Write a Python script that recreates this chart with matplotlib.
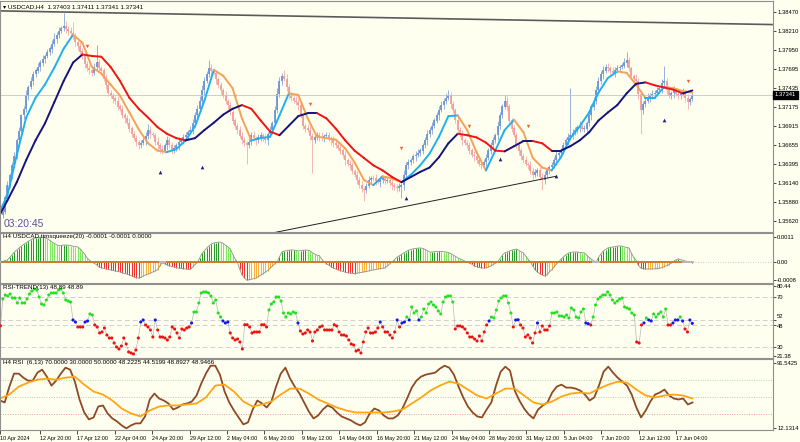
import numpy as np
import matplotlib
matplotlib.use("Agg")
import matplotlib.pyplot as plt
from matplotlib.collections import LineCollection

plt.rcParams['font.family'] = ['Liberation Sans', 'DejaVu Sans']

# ---- data (H4 bars, 10 Apr 2024 00:00 .. 18 Jun 2024 08:00) ----
# prices stored as pips above 1.3500
first_open_pips = 85
close_pips = [
    77, 70, 74, 95, 111, 125, 138, 150, 172, 185, 206, 215, 233, 245, 253, 262, 267, 272, 278, 283,
    287, 292, 297, 303, 310, 316, 321, 325, 328, 324, 321, 318, 314, 306, 301, 293, 287, 276, 270, 268,
    264, 272, 278, 270, 267, 256, 247, 236, 233, 229, 226, 218, 215, 206, 202, 196, 188, 180, 175, 170,
    165, 168, 172, 178, 186, 180, 179, 170, 165, 160, 158, 165, 172, 165, 158, 162, 165, 170, 172, 176,
    179, 183, 186, 195, 206, 215, 226, 240, 253, 262, 270, 266, 264, 255, 247, 240, 233, 226, 220, 210,
    199, 192, 186, 178, 172, 168, 165, 170, 179, 175, 172, 176, 179, 175, 172, 180, 186, 195, 213, 235,
    253, 260, 256, 245, 233, 230, 226, 224, 220, 205, 192, 188, 186, 178, 172, 176, 179, 177, 175, 178,
    179, 175, 172, 168, 165, 162, 158, 152, 145, 140, 138, 130, 125, 118, 111, 106, 104, 110, 118, 121,
    120, 116, 115, 118, 120, 117, 118, 114, 111, 108, 107, 109, 111, 125, 138, 142, 145, 150, 152, 155,
    158, 165, 172, 180, 186, 192, 199, 206, 213, 220, 226, 230, 233, 222, 213, 200, 186, 180, 172, 168,
    165, 158, 152, 150, 145, 140, 138, 142, 148, 158, 165, 172, 179, 192, 206, 218, 226, 218, 199, 188,
    179, 165, 158, 150, 145, 140, 138, 130, 125, 128, 131, 122, 118, 125, 131, 135, 138, 145, 152, 155,
    158, 165, 172, 176, 179, 182, 186, 190, 192, 188, 188, 195, 206, 218, 226, 240, 253, 262, 267, 272,
    270, 266, 264, 268, 270, 272, 274, 278, 281, 270, 260, 256, 253, 235, 213, 222, 226, 230, 233, 235,
    237, 240, 243, 250, 253, 240, 233, 236, 240, 235, 233, 236, 237, 230, 224, 228, 234]
upper_wick = [
    4, 3, 6, 2, 5, 3, 4, 6, 3, 5, 2, 4, 7, 3, 5, 4, 3, 6, 4, 5,
    3, 5, 4, 6, 8, 4, 5, 3, 18, 6, 4, 5, 15, 4, 3, 6, 5, 3, 4, 5,
    4, 6, 24, 5, 3, 4, 6, 3, 5, 4, 3, 6, 4, 5, 3, 4, 6, 3, 5, 4,
    3, 5, 4, 6, 8, 5, 4, 3, 6, 4, 5, 3, 6, 4, 5, 3, 4, 6, 3, 5,
    4, 3, 5, 6, 4, 5, 6, 8, 5, 4, 12, 6, 5, 4, 3, 5, 4, 6, 3, 4,
    5, 3, 4, 6, 5, 4, 3, 5, 4, 6, 3, 5, 4, 3, 6, 4, 5, 3, 6, 8,
    5, 4, 8, 6, 4, 5, 3, 6, 4, 5, 3, 4, 6, 5, 4, 3, 5, 4, 6, 3,
    4, 5, 3, 6, 4, 3, 5, 4, 6, 3, 5, 4, 3, 5, 4, 6, 3, 4, 5, 3,
    4, 6, 3, 5, 4, 3, 5, 4, 6, 3, 4, 5, 3, 6, 4, 5, 3, 4, 6, 5,
    4, 3, 5, 6, 4, 5, 3, 4, 6, 5, 4, 6, 8, 5, 4, 3, 5, 4, 6, 3,
    4, 5, 3, 6, 4, 3, 5, 4, 6, 3, 5, 4, 3, 6, 5, 4, 8, 6, 4, 3,
    5, 4, 6, 3, 4, 5, 3, 6, 4, 5, 3, 4, 6, 5, 4, 3, 5, 4, 6, 3,
    4, 5, 3, 6, 64, 5, 4, 3, 6, 4, 5, 3, 6, 4, 5, 6, 5, 4, 6, 4,
    5, 3, 6, 4, 5, 3, 4, 6, 11, 5, 4, 3, 6, 4, 5, 3, 4, 6, 3, 5,
    4, 5, 3, 6, 20, 4, 5, 3, 6, 4, 5, 3, 6, 4, 5, 3, 2]
lower_wick = [
    5, 15, 4, 3, 6, 4, 5, 3, 4, 6, 3, 5, 4, 6, 3, 5, 4, 3, 6, 4,
    5, 3, 4, 6, 3, 5, 4, 3, 4, 6, 5, 3, 4, 5, 6, 3, 4, 5, 3, 6,
    4, 3, 5, 4, 6, 3, 5, 4, 3, 6, 4, 5, 3, 4, 6, 3, 5, 4, 3, 6,
    5, 4, 3, 6, 4, 5, 3, 4, 6, 5, 4, 3, 6, 4, 5, 3, 4, 6, 3, 5,
    4, 5, 3, 6, 4, 3, 5, 4, 6, 3, 4, 5, 3, 6, 4, 5, 3, 4, 6, 3,
    5, 4, 6, 3, 5, 4, 25, 3, 5, 4, 6, 3, 5, 4, 3, 6, 4, 5, 3, 4,
    4, 5, 3, 6, 4, 5, 3, 4, 6, 3, 5, 4, 3, 5, 44, 4, 3, 6, 4, 5,
    3, 4, 6, 5, 4, 3, 5, 4, 6, 3, 5, 4, 3, 6, 4, 5, 14, 4, 3, 5,
    4, 5, 3, 6, 4, 5, 3, 4, 6, 3, 5, 4, 16, 6, 4, 5, 3, 4, 6, 3,
    5, 4, 3, 6, 4, 5, 3, 4, 6, 3, 5, 4, 3, 6, 4, 5, 3, 4, 6, 3,
    4, 5, 3, 6, 4, 3, 5, 4, 6, 3, 5, 4, 3, 6, 5, 4, 3, 6, 4, 5,
    3, 4, 6, 5, 4, 3, 5, 4, 6, 3, 5, 4, 14, 6, 4, 5, 3, 4, 6, 5,
    4, 5, 3, 6, 4, 5, 3, 4, 6, 3, 5, 4, 3, 6, 4, 5, 3, 4, 6, 3,
    5, 4, 3, 6, 4, 5, 3, 4, 6, 3, 5, 4, 3, 6, 32, 5, 4, 3, 6, 4,
    5, 4, 3, 6, 4, 5, 3, 4, 6, 3, 5, 4, 3, 6, 9, 4, 3]

# moving averages, one value every 4 bars (pips above 1.3500)
ma_step = 4
fast_ma = [70, 97, 152, 203, 230, 248, 271, 297, 316, 305, 272, 263, 248, 233, 210, 187, 168, 158, 156, 160,
           172, 191, 226, 268, 260, 243, 202, 172, 175, 177, 206, 236, 234, 202, 177, 175, 173, 161, 142, 118,
           111, 123, 120, 115, 125, 138, 154, 177, 205, 206, 186, 156, 131, 158, 186, 200, 183, 148, 135, 131,
           149, 175, 191, 210, 237, 257, 266, 264, 248, 230, 230, 245, 243, 239, 237]
slow_ma = [66, 90, 115, 145, 172, 195, 224, 253, 278, 289, 287, 286, 272, 253, 230, 215, 203, 190, 181, 175,
           172, 175, 186, 196, 207, 215, 220, 215, 199, 184, 179, 192, 205, 209, 209, 202, 188, 172, 158, 148,
           138, 131, 122, 115, 122, 129, 135, 149, 168, 181, 179, 176, 169, 158, 157, 164, 171, 171, 168, 158,
           158, 164, 172, 183, 199, 210, 220, 236, 249, 251, 247, 244, 241, 236, 240]

last_price = 1.37341
upper_trend = [(1, 1.38484), (330, 1.38298)]
lower_trend = [(119, 1.35471), (238, 1.36231)]
sell_bars = [38, 101, 133, 172, 201, 226, 294]
sell_pips = [300, 233, 222, 162, 192, 192, 253]
buy_bars = [69, 87, 174, 214, 238, 284]
buy_pips = [129, 135, 93, 146, 123, 200]
price_ticks = [1.38470, 1.38210, 1.37950, 1.37695, 1.37435, 1.37175, 1.36915,
               1.36655, 1.36395, 1.36140, 1.35880, 1.35620]

# squeeze momentum per bar, in 0.00001
squeeze = [
    0, 0, 3, 6, 9, 20, 32, 44, 53, 62, 70, 78, 85, 92, 98, 104, 106, 108, 110, 110,
    108, 103, 96, 88, 82, 76, 72, 73, 75, 75, 74, 72, 70, 68, 66, 58, 46, 34, 18, 8,
    0, -6, -12, -22, -25, -28, -31, -33, -35, -37, -40, -42, -44, -48, -51, -54, -57, -62, -66, -69,
    -71, -68, -62, -57, -53, -49, -44, -40, -35, -18, -3, -8, -12, -16, -20, -22, -25, -27, -28, -30,
    -31, -32, -33, -22, -11, -2, 18, 38, 50, 62, 72, 80, 84, 86, 88, 87, 82, 74, 66, 58,
    35, 15, 0, -30, -57, -70, -80, -79, -76, -74, -71, -65, -58, -52, -45, -38, -28, -18, -8, 0,
    22, 44, 48, 50, 52, 53, 53, 51, 49, 50, 52, 53, 52, 50, 40, 35, 30, 28, 12, 0,
    -8, -14, -21, -27, -31, -35, -38, -42, -45, -47, -49, -50, -52, -50, -48, -46, -44, -42, -40, -37,
    -35, -33, -31, -29, -28, -26, -18, -8, 0, 10, 20, 27, 33, 40, 46, 52, 55, 58, 60, 61,
    62, 60, 56, 50, 44, 44, 45, 46, 47, 46, 45, 44, 42, 37, 31, 25, 18, 13, 9, 4,
    0, -5, -10, -17, -21, -24, -26, -27, -26, -23, -18, -12, -6, 0, 15, 30, 40, 44, 48, 52,
    55, 57, 52, 45, 40, 25, 12, 0, -18, -35, -45, -52, -57, -62, -57, -45, -35, -22, -10, 0,
    12, 22, 31, 38, 42, 44, 44, 44, 42, 41, 40, 30, 20, 12, 5, 0, 20, 35, 48, 55,
    62, 64, 66, 68, 70, 71, 70, 67, 64, 62, 40, 20, 8, -15, -27, -30, -31, -31, -31, -31,
    -30, -29, -28, -25, -21, -16, -12, -5, 3, 9, 14, 10, 8, 4, 2, -2, -3]
squeeze_off = [(0, 1), (69, 71), (254, 256), (292, 296)]

# RSI-TREND(13), one point per bar across the chart
rsi_trend = [
    50.0, 47.0, 68.4, 71.6, 70.8, 72.4, 69.2, 69.2, 65.2, 69.2, 65.2, 65.2, 68.4, 72.4, 74.8, 76.4,
    75.6, 70.0, 64.4, 63.6, 67.6, 71.6, 73.2, 73.2, 73.2, 75.6, 76.4, 73.2, 67.6, 66.8, 66.0, 51.6,
    50.0, 46.0, 46.0, 46.0, 50.0, 50.8, 56.4, 55.6, 47.6, 46.0, 41.2, 42.0, 45.2, 39.6, 37.2, 37.2,
    33.2, 30.0, 28.4, 30.8, 37.2, 32.4, 26.0, 25.2, 24.4, 27.6, 37.2, 50.0, 51.6, 47.6, 46.0, 43.6,
    38.0, 51.6, 43.6, 38.0, 38.0, 37.2, 35.6, 38.0, 46.0, 44.4, 41.2, 37.2, 44.4, 43.6, 45.2, 46.0,
    49.2, 58.0, 58.0, 65.2, 73.2, 74.0, 74.0, 73.2, 70.8, 65.2, 67.6, 57.2, 54.0, 50.8, 49.2, 50.0,
    41.2, 37.2, 35.6, 36.4, 34.0, 28.4, 47.8, 47.8, 46.0, 41.2, 42.0, 42.0, 42.0, 47.8, 47.8, 46.0,
    59.6, 64.4, 66.0, 70.0, 70.0, 66.8, 57.2, 54.0, 57.2, 56.4, 58.0, 57.2, 49.2, 42.8, 40.4, 41.2,
    43.6, 42.0, 34.8, 42.0, 43.6, 46.0, 46.8, 43.6, 43.6, 43.6, 43.6, 47.8, 46.8, 42.0, 39.6, 39.6,
    38.8, 35.6, 32.4, 31.6, 26.8, 27.6, 25.2, 34.0, 42.0, 45.2, 41.2, 41.2, 42.0, 45.2, 50.0, 46.0,
    42.0, 42.0, 39.6, 37.2, 42.0, 51.6, 46.0, 49.2, 50.0, 54.0, 51.6, 62.0, 57.2, 58.8, 51.6, 54.0,
    60.4, 57.2, 64.4, 66.0, 63.6, 62.0, 58.8, 56.4, 66.0, 70.0, 70.8, 70.8, 66.0, 44.4, 46.8, 46.8,
    46.0, 44.4, 41.2, 38.0, 38.0, 36.4, 34.8, 38.8, 34.8, 42.0, 47.6, 50.8, 54.0, 53.2, 59.6, 66.8,
    69.2, 70.8, 70.8, 65.2, 57.2, 46.0, 51.6, 51.8, 47.6, 45.2, 38.0, 39.6, 37.2, 33.2, 41.2, 49.2,
    42.0, 46.8, 43.6, 43.6, 46.8, 57.2, 57.2, 58.0, 54.8, 54.8, 54.0, 55.6, 53.2, 61.2, 59.6, 54.0,
    53.2, 58.0, 60.4, 49.2, 48.6, 47.6, 54.0, 63.6, 68.4, 70.0, 71.6, 71.6, 74.0, 71.6, 67.6, 65.2,
    66.8, 68.4, 69.2, 62.0, 61.2, 60.4, 57.2, 55.6, 34.0, 33.2, 47.6, 49.2, 53.2, 51.6, 50.8, 56.4,
    54.0, 56.4, 58.0, 54.0, 60.4, 47.6, 47.6, 49.2, 51.6, 51.6, 54.0, 50.8, 44.4, 42.0, 51.6, 48.9]

# RSI(6) every 2 bars, its 13-period average every 4 bars
rsi_fast = [
    45.8, 43.4, 62.6, 78.3, 78.3, 73.4, 69.8, 69.8, 79.5, 83.1,
    74.7, 63.8, 69.8, 78.3, 85.5, 83.1, 68.6, 47.0, 31.3, 22.9,
    25.3, 38.5, 39.8, 30.1, 24.1, 20.5, 15.7, 12.1, 15.7, 18.1,
    18.1, 26.5, 47.0, 54.2, 48.2, 45.8, 42.2, 34.9, 37.3, 41.0,
    42.2, 44.6, 51.8, 66.2, 78.3, 87.9, 87.9, 77.1, 56.6, 43.4,
    33.7, 25.3, 16.9, 19.3, 34.9, 45.8, 42.2, 37.3, 44.6, 62.6,
    78.3, 85.5, 72.2, 62.6, 54.2, 43.4, 32.5, 24.1, 27.7, 34.9,
    39.8, 37.3, 31.3, 26.5, 24.1, 21.7, 18.1, 15.7, 19.3, 30.1,
    36.1, 33.7, 27.7, 24.1, 24.1, 27.7, 36.1, 48.2, 61.4, 69.8,
    74.7, 77.1, 78.3, 79.5, 84.3, 87.9, 85.5, 77.1, 62.6, 49.4,
    38.5, 31.3, 26.5, 25.3, 34.9, 43.4, 63.8, 80.7, 86.7, 81.9,
    57.8, 45.8, 36.1, 28.9, 24.1, 34.9, 39.8, 43.4, 55.4, 62.6,
    65.0, 61.4, 61.4, 60.2, 57.8, 53.0, 45.8, 49.4, 63.8, 80.7,
    86.7, 79.5, 73.4, 68.6, 63.8, 53.0, 37.3, 25.3, 33.7, 44.6,
    53.0, 55.4, 59.0, 51.8, 48.2, 47.0, 48.2, 41.0, 43.4]
rsi_slow = [
    48.2, 53.0, 62.6, 67.4, 71.0, 72.2, 71.0, 73.4, 74.7, 65.0,
    56.6, 53.0, 45.8, 36.1, 30.1, 26.5, 33.7, 38.5, 39.8, 39.8,
    41.0, 42.2, 49.4, 63.8, 65.0, 56.6, 44.6, 38.5, 41.0, 44.6,
    53.0, 60.2, 60.2, 54.2, 47.0, 42.2, 37.3, 33.7, 31.3, 31.3,
    31.3, 31.3, 32.5, 34.9, 42.2, 49.4, 57.8, 63.8, 68.6, 66.2,
    59.0, 51.8, 48.2, 54.2, 60.2, 60.2, 51.8, 43.4, 41.0, 44.6,
    50.6, 54.2, 55.4, 54.2, 60.2, 65.0, 68.6, 67.4, 59.0, 51.8,
    49.4, 51.8, 53.0, 51.8, 48.2]

time_bars = [0, 17, 33, 49, 65, 81, 97, 113, 129, 145, 161, 177, 193, 209, 225, 241, 257, 273, 289]
time_labels = ['10 Apr 2024', '12 Apr 20:00', '17 Apr 12:00', '22 Apr 04:00', '24 Apr 20:00',
               '29 Apr 12:00', '2 May 04:00', '6 May 20:00', '9 May 12:00', '14 May 04:00',
               '16 May 20:00', '21 May 12:00', '24 May 04:00', '28 May 20:00', '31 May 12:00',
               '5 Jun 04:00', '7 Jun 20:00', '12 Jun 12:00', '17 Jun 04:00']

# ---- drawing ----
BG = '#fffff0'
FS = 4.5      # in-panel captions
FS_AX = 4.2   # axis labels
W, H = 800, 442
n = len(close_pips)
bars = np.arange(n)


def to_price(p):
    return 1.35 + np.asarray(p, dtype=float) / 1e4


def panel(top, bottom):
    ax = fig.add_axes([0.0, 1 - bottom / H, 773 / W, (bottom - top) / H])
    ax.set_facecolor(BG)
    for s in ax.spines.values():
        s.set_color('#909090')
        s.set_linewidth(0.8)
    ax.set_xlim(0.85, 330.4)
    ax.yaxis.tick_right()
    ax.tick_params(axis='y', length=2, width=0.5, labelsize=FS_AX, pad=1, colors='#000000')
    ax.tick_params(axis='x', bottom=False, labelbottom=False)
    return ax


def slope_line(ax, x, y, up_col, down_col, lw):
    pts = np.column_stack([x, y])
    segs = np.stack([pts[:-1], pts[1:]], axis=1)
    cols = [up_col if b >= a else down_col for a, b in zip(y[:-1], y[1:])]
    ax.add_collection(LineCollection(segs, colors=cols, linewidths=lw, capstyle='round'))


fig = plt.figure(figsize=(8, 4.42), dpi=100)
fig.patch.set_facecolor(BG)

# main price panel
ax = panel(1, 232)
close = to_price(close_pips)
opens = np.r_[to_price(first_open_pips), close[:-1]]
high = np.maximum(opens, close) + np.array(upper_wick) / 1e4
low = np.minimum(opens, close) - np.array(lower_wick) / 1e4
cols = np.where(close >= opens, '#6d93d4', '#f29c9c')
ax.vlines(bars, low, high, colors=cols, lw=0.5)
ax.vlines(bars, np.minimum(opens, close), np.maximum(opens, close) + 0.00002, colors=cols, lw=1.3)
ax.axhline(last_price, color='#c4c4c4', lw=0.6)

(x1, y1), (x2, y2) = upper_trend
ax.plot([x1, x2], [y1, y2], color='#5a5a5a', lw=1.2)
(x1, y1), (x2, y2) = lower_trend
ax.plot([x1 - 30, x2], [y1 - 30 * (y2 - y1) / (x2 - x1), y2], color='#202020', lw=0.7)

ma_x = np.arange(0, n, ma_step)
slope_line(ax, ma_x, to_price(fast_ma), '#1eb0f0', '#f4a15c', 1.4)
slope_line(ax, ma_x, to_price(slow_ma), '#14147a', '#f01414', 1.4)

ax.scatter(sell_bars, to_price(sell_pips), marker='v', s=6, color='#f06030', lw=0)
ax.scatter(buy_bars, to_price(buy_pips), marker='^', s=7, color='#20207a', lw=0)

ax.set_ylim(to_price(47.1), to_price(361.9))
ax.set_yticks(price_ticks)
ax.set_yticklabels(['%.5f' % v for v in price_ticks])
ax.text(1.002, last_price, '%.5f' % last_price, transform=ax.get_yaxis_transform(),
        fontsize=FS_AX, color='white', va='center', ha='left',
        bbox=dict(boxstyle='square,pad=0.3', fc='black', ec='black'))
ax.text(0.004, 0.985, '\u25be USDCAD,H4  1.37403 1.37411 1.37341 1.37341', transform=ax.transAxes,
        fontsize=FS, va='top', ha='left')
ax.text(0.005, 0.012, '03:20:45', transform=ax.transAxes, fontsize=7.5, color='#5a5199',
        va='bottom', ha='left')

# squeeze panel
ax = panel(233, 283)
sq = np.array(squeeze, dtype=float)
prev = np.r_[sq[0], sq[:-1]]
hist_cols = []
for v, p in zip(sq, prev):
    if v >= 0:
        hist_cols.append('#2a9a2a' if v >= p else '#7ee860')
    else:
        hist_cols.append('#f03030' if v < p else '#f8b040')
ax.vlines(bars, 0, sq, colors=hist_cols, lw=0.75)
ax.plot(bars, sq, color='#909090', lw=0.6)
ax.axhline(0, color='#b8b8b8', lw=0.6, ls=(0, (1, 2)))
dot_cols = np.array(['#d07a36'] * n, dtype=object)
for a, b in squeeze_off:
    dot_cols[a:b + 1] = '#b8b8b8'
ax.scatter(bars, np.zeros(n), s=3.5, marker='s', c=list(dot_cols), lw=0, zorder=3)
ax.set_ylim(-93, 128)
ax.set_yticks([110, 0, -80])
ax.set_yticklabels(['0.0011', '0.00', '-0.0008'])
ax.text(0.004, 0.97, 'H4 USDCAD,ttmsqueeze(20) -0.0001 -0.0001 0.0000', transform=ax.transAxes,
        fontsize=FS, va='top', ha='left')

# RSI-TREND panel
ax = panel(284, 358)
tv = np.array(rsi_trend)
tx = np.linspace(0, n - 1, len(tv))
for lvl in (70, 52, 48, 30):
    ax.axhline(lvl, color='#cfcfcf', lw=0.7, ls=(0, (5, 3)))
ax.plot(tx, tv, color='#b8b8b8', lw=0.5)
tcols = ['#22e022' if v > 52 else ('#ee1111' if v < 48 else '#1515ee') for v in tv]
ax.scatter(tx, tv, s=5, c=tcols, lw=0, zorder=3)
ax.set_ylim(21.2, 80.4)
ax.set_yticks([78.6, 70, 52, 48, 30, 23.0])
ax.set_yticklabels(['80.44', '70', '52', '48', '30', '21.38'])
tl = ax.get_yticklabels()
tl[2].set_va('bottom')
tl[3].set_va('top')
ax.text(0.004, 0.985, 'RSI-TREND(13) 48.89 48.89', transform=ax.transAxes,
        fontsize=FS, va='top', ha='left')

# RSI panel
ax = panel(359, 430)
ax.axhline(70, color='#a8e0a8', lw=0.7, ls=(0, (1, 1.5)))
ax.axhline(50, color='#c0c0c0', lw=0.7, ls=(0, (1, 1.5)))
ax.axhline(30, color='#eaa0a0', lw=0.7, ls=(0, (1, 1.5)))
ax.plot(np.arange(0, n, 2), rsi_fast, color='#8c4a26', lw=1.3)
ax.plot(np.arange(0, n, 4), rsi_slow, color='#ffa514', lw=1.3)
ax.set_ylim(10.1, 96.0)
ax.set_yticks([91.5425, 12.1314])
ax.set_yticklabels(['91.5425', '12.1314'])
ax.text(0.004, 0.985, 'H4 RSI  (6,13) 70.0000 30.0000 50.0000 48.2225 44.5199 48.8927 48.9466',
        transform=ax.transAxes, fontsize=FS, va='top', ha='left')
ax.set_xticks(time_bars)
ax.set_xticklabels(time_labels)
ax.tick_params(axis='x', bottom=True, labelbottom=True, length=3, width=0.5,
               labelsize=3.9, pad=1, direction='out')
for lab in ax.get_xticklabels():
    lab.set_ha('left')

fig.savefig('out.png', dpi=100, facecolor=BG)
